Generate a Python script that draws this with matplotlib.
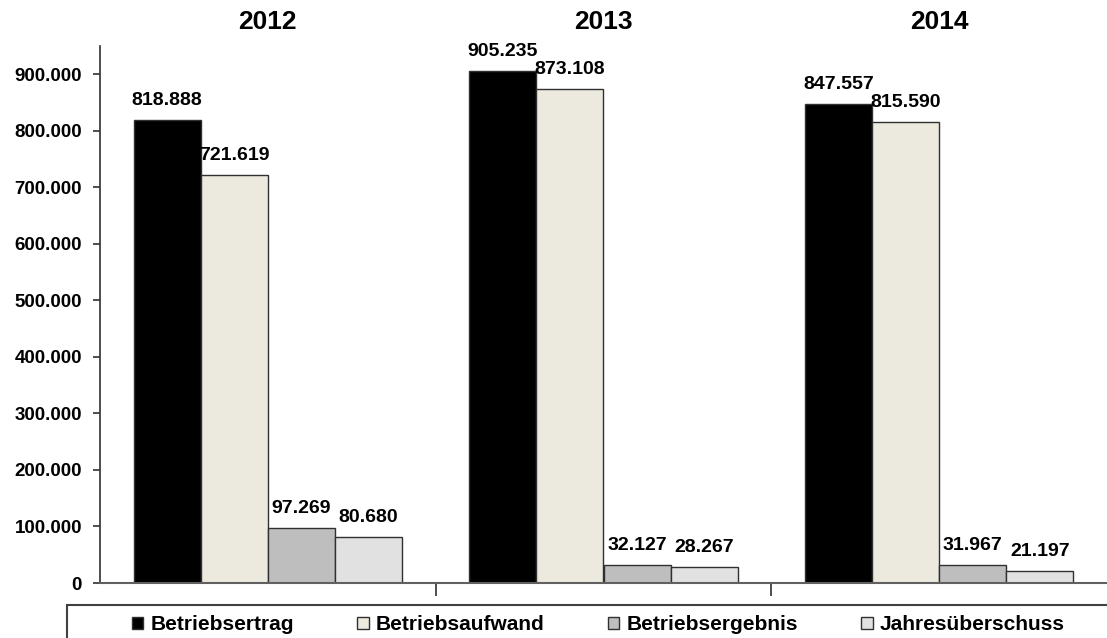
import matplotlib
matplotlib.use('Agg')
import matplotlib.pyplot as plt
from matplotlib.patches import Rectangle
from matplotlib.ticker import FuncFormatter
import numpy as np

plt.rc('font', family='Liberation Sans', weight='bold')

# data
years = ['2012', '2013', '2014']
series = ['Betriebsertrag', 'Betriebsaufwand', 'Betriebsergebnis', 'Jahresüberschuss']
ertrag = [818888, 905235, 847557]
aufwand = [721619, 873108, 815590]
ergebnis = [97269, 32127, 31967]
ueberschuss = [80680, 28267, 21197]
colors = ['#000000', '#ECE9DE', '#BEBEBE', '#E1E1E1']


def dotfmt(v):
    return f'{int(round(v)):,}'.replace(',', '.')


fig = plt.figure(figsize=(11.07, 6.38), dpi=100)
ax = fig.add_axes([100/1107, 55/638, 1007/1107, 537/638])

x = np.arange(len(years))
w = 0.2
for i, (vals, c) in enumerate(zip([ertrag, aufwand, ergebnis, ueberschuss], colors)):
    bars = ax.bar(x + (i - 1.5)*w, vals, w, color=c, edgecolor='#303030',
                  linewidth=1.0, label=series[i], zorder=2)
    for b, v in zip(bars, vals):
        ax.annotate(dotfmt(v), (b.get_x() + b.get_width()/2, v),
                    xytext=(0, 8), textcoords='offset points',
                    ha='center', va='bottom', fontsize=14, fontweight='bold')

for i, yr in enumerate(years):
    ax.text(i, 1.045, yr, transform=ax.get_xaxis_transform(), ha='center',
            va='center', fontsize=19, fontweight='bold')

ax.set_xlim(-0.5, 2.5)
ax.set_ylim(0, 950000)
ax.set_yticks(np.arange(0, 900001, 100000))
ax.yaxis.set_major_formatter(FuncFormatter(lambda v, p: dotfmt(v)))
ax.set_xticks([0.5, 1.5])
ax.set_xticklabels([])
ax.tick_params(axis='x', length=9, width=1.2, color='#303030', direction='out')
ax.tick_params(axis='y', length=5, width=1.2, color='#303030', labelsize=13.5, pad=8)
for t in ax.get_yticklabels():
    t.set_fontweight('bold')
ax.spines['top'].set_visible(False)
ax.spines['right'].set_visible(False)
ax.spines['left'].set_color('#303030')
ax.spines['left'].set_linewidth(1.2)
ax.spines['bottom'].set_color('#606060')
ax.spines['bottom'].set_linewidth(1.5)

# legend box running off the figure edge
fig.patches.append(Rectangle((67/1107, -0.05), 1.1, (638 - 605)/638 + 0.05,
                             transform=fig.transFigure, fill=False,
                             edgecolor='#404040', linewidth=1.5))
leg = fig.legend(loc='center left', bbox_to_anchor=(132/1107, 1 - 625/638),
                 ncol=4, frameon=False, fontsize=15, handlelength=0.55,
                 handleheight=0.55, handletextpad=0.33, columnspacing=3.05,
                 borderpad=0, borderaxespad=0)
for t in leg.get_texts():
    t.set_fontweight('bold')

fig.savefig('out.png', dpi=100)
